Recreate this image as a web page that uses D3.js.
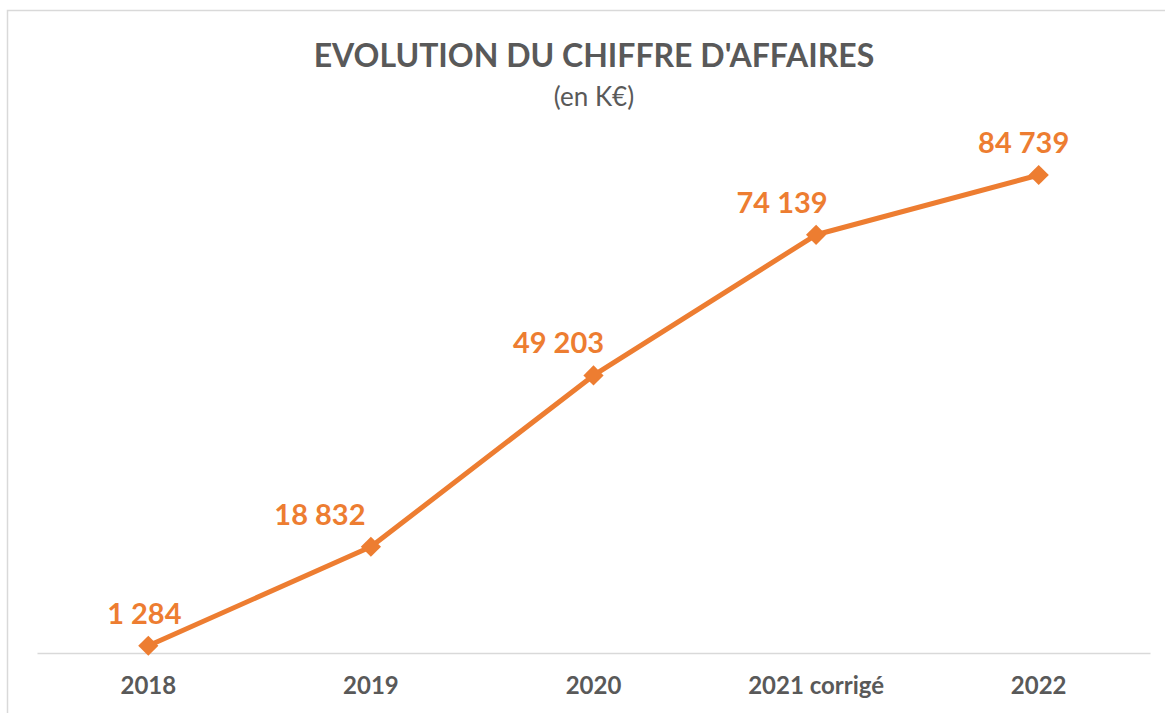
<!DOCTYPE html>
<html>
<head>
<meta charset="utf-8">
<script src="https://cdn.jsdelivr.net/npm/d3@7"></script>
<style>
  body { margin: 0; background: #fff; }
  text { font-family: Lato, "Open Sans", sans-serif; }
</style>
</head>
<body>
<div id="chart"></div>
<script>
// chart data
const years = ["2018", "2019", "2020", "2021 corrigé", "2022"];
const revenue = [1284, 18832, 49203, 74139, 84739];
const labelShift = [-4, -51, -35, -34, -15]; // labels sit a bit left of the points

const orange = "#ED7D31";
const grey = "#595959";

let width = 1165, height = 713;
let margin = {left: 37, right: 15, bottom: 60};
let y0 = 653;

let svg = d3.select("#chart")
    .append("svg")
    .attr("width", width)
    .attr("height", height);

// outer frame (runs off the right and bottom edges)
svg.append("rect")
    .attr("x", 7.5)
    .attr("y", 10.5)
    .attr("width", width)
    .attr("height", height)
    .attr("fill", "none")
    .attr("stroke", "#d9d9d9")
    .attr("stroke-width", 1.5);

// title
svg.append("text")
    .attr("x", 594)
    .attr("y", 67)
    .attr("text-anchor", "middle")
    .attr("font-size", 32)
    .attr("font-weight", "bold")
    .attr("fill", grey)
    .text("EVOLUTION DU CHIFFRE D'AFFAIRES");

svg.append("text")
    .attr("x", 594)
    .attr("y", 106)
    .attr("text-anchor", "middle")
    .attr("font-size", 26)
    .attr("fill", grey)
    .text("(en K€)");

// scales
let x = d3.scaleBand()
    .domain(years)
    .range([margin.left, width - margin.right]);

let y = d3.scaleLinear()
    .domain([0, 90000])
    .range([y0, y0 - 90000 * 0.005641]);

// x axis
let xAxis = svg.append("g")
    .attr("transform", "translate(0," + y0 + ")")
    .call(d3.axisBottom(x).tickSize(0).tickPadding(24));

xAxis.select(".domain")
    .attr("stroke", "#d9d9d9")
    .attr("stroke-width", 1.5);

xAxis.selectAll("text")
    .attr("font-family", "Lato, 'Open Sans', sans-serif")
    .attr("font-size", 24)
    .attr("font-weight", "bold")
    .attr("fill", grey);

// line
let valueline = d3.line()
    .x(function(d, i) { return x(years[i]) + x.bandwidth() / 2; })
    .y(function(d) { return y(d); });

svg.append("path")
    .datum(revenue)
    .attr("fill", "none")
    .attr("stroke", orange)
    .attr("stroke-width", 5)
    .attr("stroke-linejoin", "round")
    .attr("d", valueline);

// diamond markers
svg.selectAll(".marker")
    .data(revenue)
    .enter()
    .append("path")
    .attr("class", "marker")
    .attr("d", d3.symbol().type(d3.symbolDiamond2).size(260))
    .attr("fill", orange)
    .attr("transform", function(d, i) {
        return "translate(" + (x(years[i]) + x.bandwidth() / 2) + "," + y(d) + ")";
    });

// value labels
let fmt = function(v) { return d3.format(",")(v).replace(/,/g, " "); };

svg.selectAll(".label")
    .data(revenue)
    .enter()
    .append("text")
    .attr("class", "label")
    .attr("x", function(d, i) { return x(years[i]) + x.bandwidth() / 2 + labelShift[i]; })
    .attr("y", function(d) { return y(d) - 22; })
    .attr("text-anchor", "middle")
    .attr("font-size", 29)
    .attr("font-weight", "bold")
    .attr("fill", orange)
    .text(fmt);
</script>
</body>
</html>
